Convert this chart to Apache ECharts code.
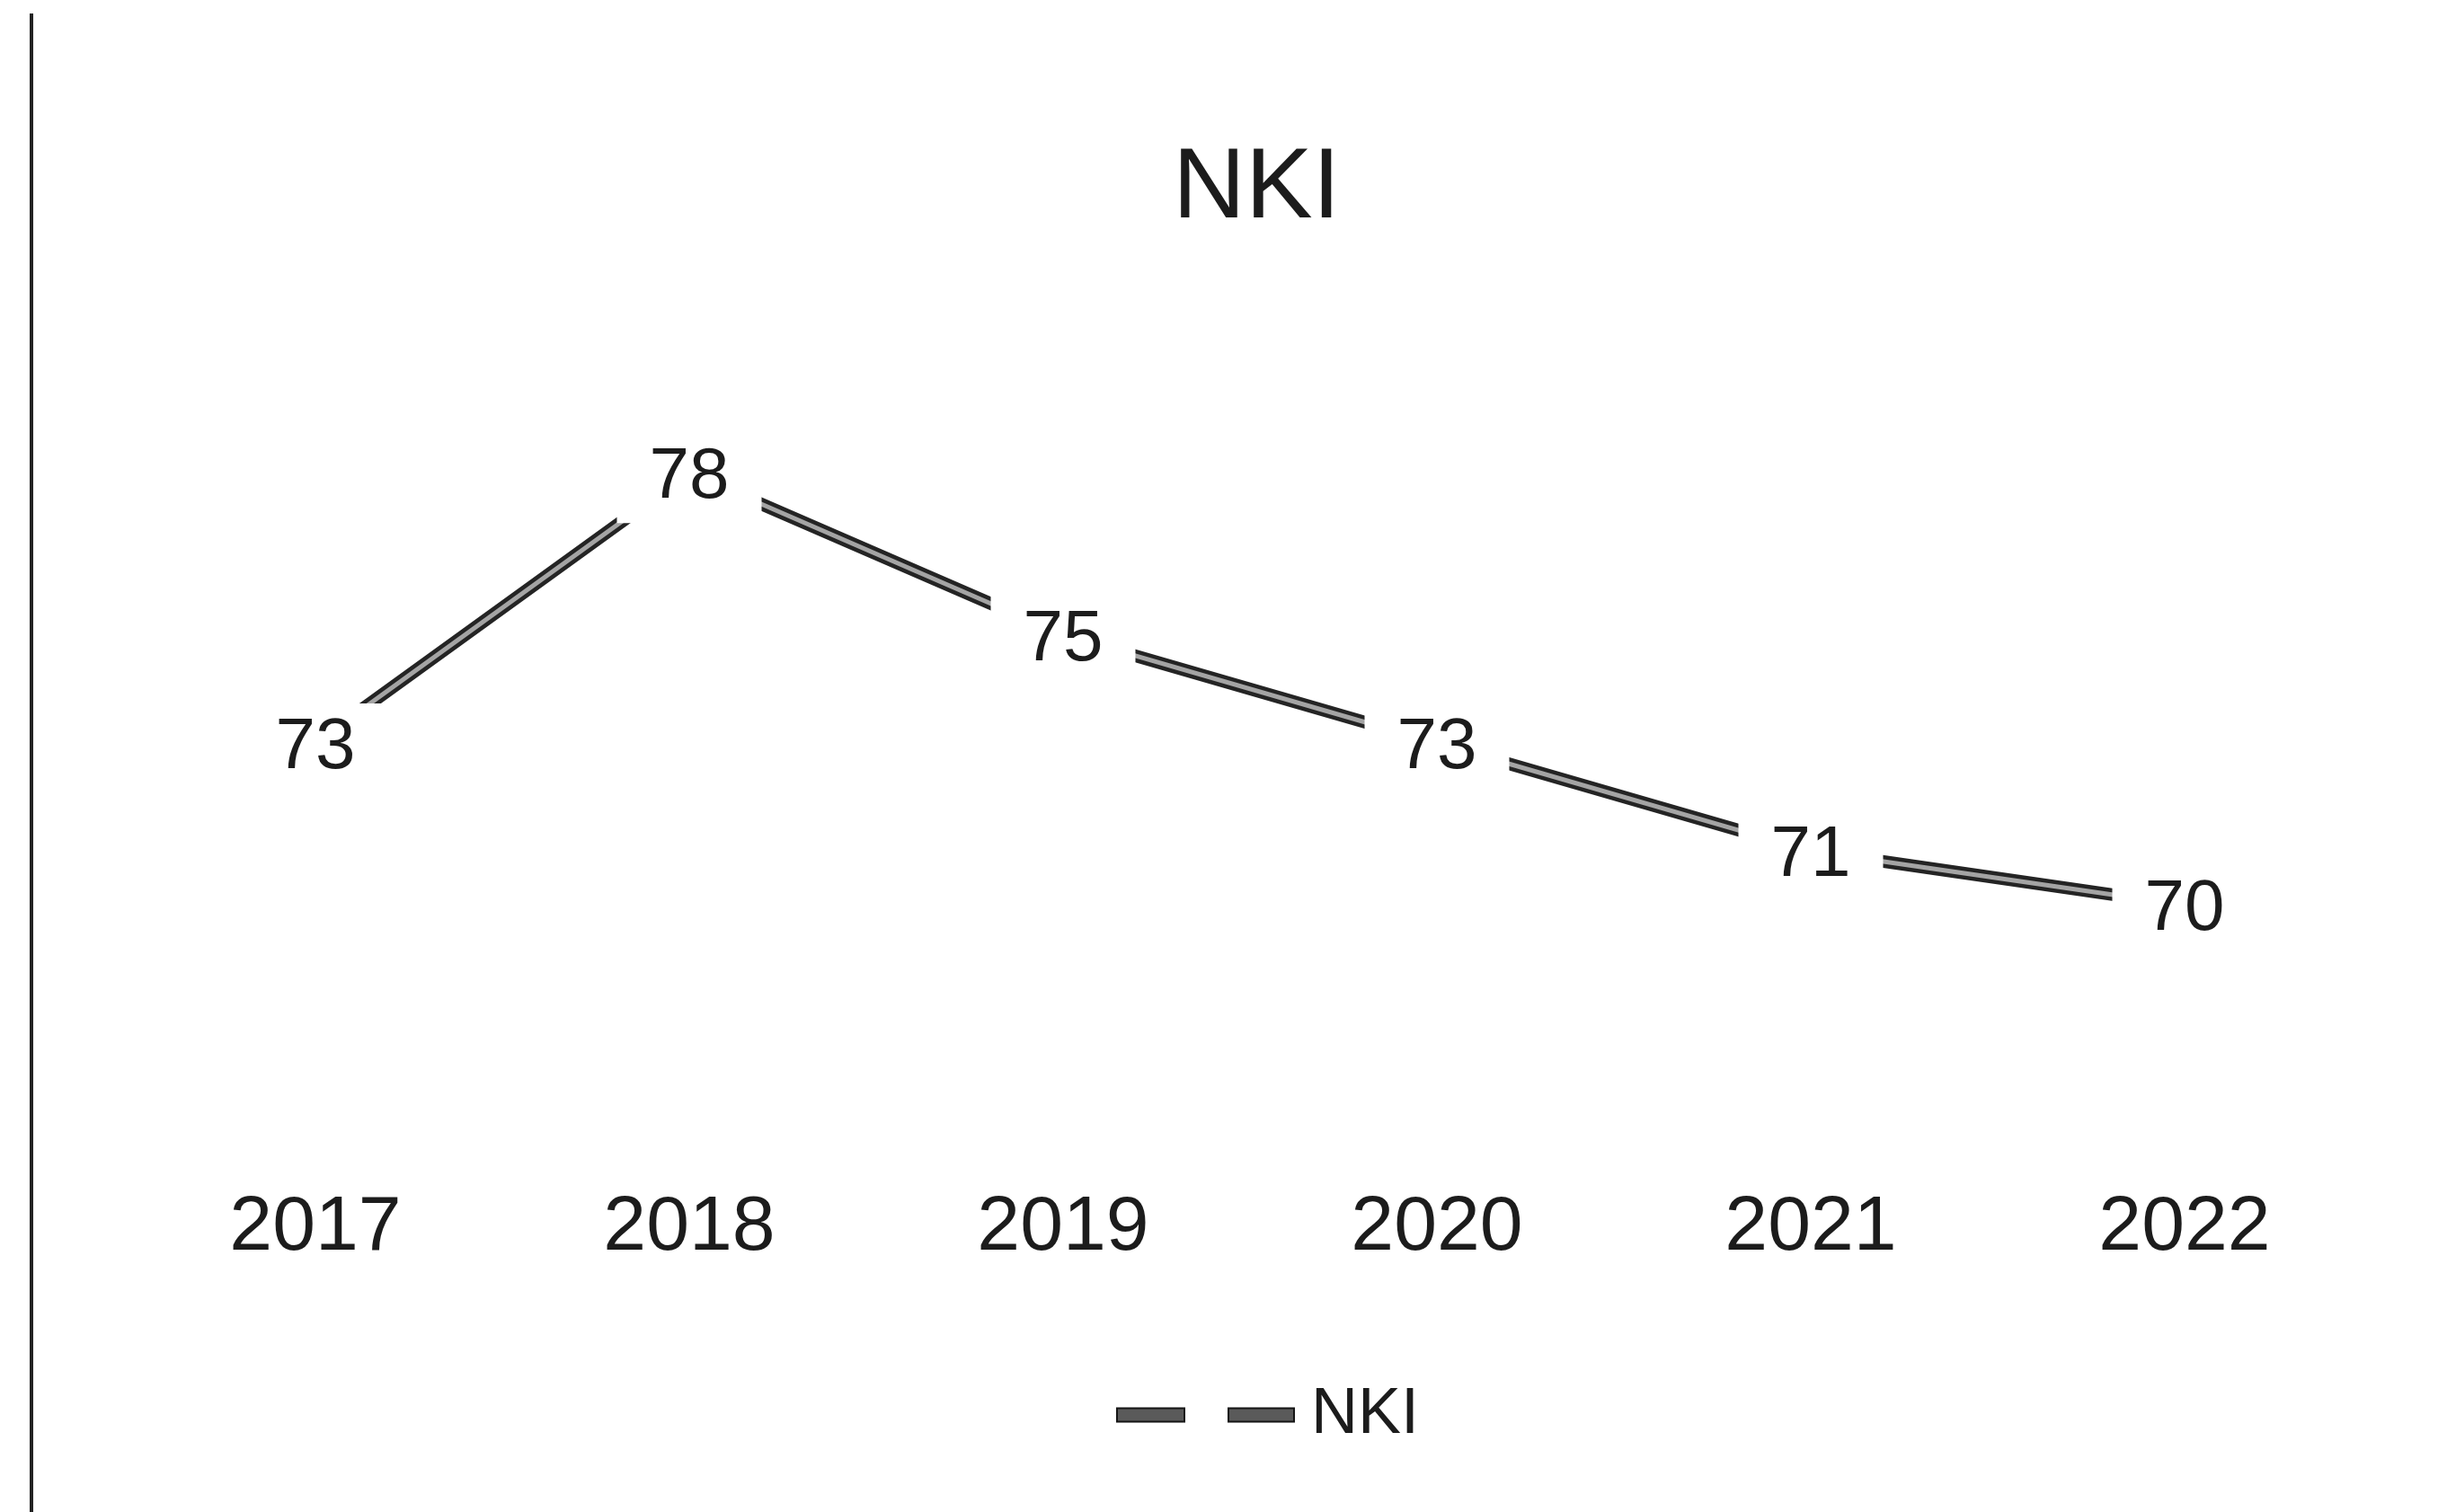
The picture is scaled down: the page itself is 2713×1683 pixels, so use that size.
<!DOCTYPE html>
<html>
<head>
<meta charset="utf-8">
<title>NKI</title>
<script src="https://cdn.jsdelivr.net/npm/echarts@6/dist/echarts.min.js"></script>
<style>
  html, body { margin: 0; padding: 0; background: #ffffff; }
  #chart { width: 2713px; height: 1683px; }
</style>
</head>
<body>
<div id="chart"></div>
<script>
// Yearly NKI values
const years = ['2017', '2018', '2019', '2020', '2021', '2022'];
const nkiValues = [73, 78, 75, 73, 71, 70];
const seriesName = 'NKI';

const FONT = "'Liberation Sans', 'Noto Sans', sans-serif";
const INK = '#1c1c1c';

const chart = echarts.init(document.getElementById('chart'), null, { renderer: 'canvas' });

chart.setOption({
  backgroundColor: '#ffffff',
  animation: false,
  title: {
    text: 'NKI',
    left: 1300,
    top: 150,
    textStyle: { fontFamily: FONT, fontSize: 112, fontWeight: 'normal', color: INK, lineHeight: 112 }
  },
  legend: {
    left: 1237,
    top: 1532,
    itemWidth: 197,
    itemHeight: 15,
    symbolKeepAspect: false,
    data: [{
      name: seriesName,
      icon: 'path://M0,0H75V15H0Z M124,0H197V15H124Z',
      itemStyle: { color: '#5a5a5a', borderColor: '#151515', borderWidth: 2 }
    }],
    textStyle: { fontFamily: FONT, fontSize: 72, color: INK, lineHeight: 76, padding: [0, 0, 0, 14] }
  },
  grid: { left: 143, right: 74, top: 406, bottom: 435 },
  xAxis: {
    type: 'category',
    data: years,
    boundaryGap: true,
    axisLine: { show: false },
    axisTick: { show: false },
    splitLine: { show: false },
    axisLabel: { fontFamily: FONT, fontSize: 86, color: INK, lineHeight: 86, margin: 76 }
  },
  yAxis: {
    type: 'value',
    min: 66,
    max: 80,
    interval: 2,
    show: false,
    splitLine: { show: false }
  },
  graphic: [{
    type: 'line',
    shape: { x1: 35, y1: 15, x2: 35, y2: 1683 },
    style: { stroke: '#222222', lineWidth: 4 }
  }],
  series: [
    {
      // dark outer stroke of the doubled line
      name: seriesName,
      type: 'line',
      data: nkiValues,
      symbol: 'none',
      lineStyle: { color: '#242424', width: 14 },
      silent: true,
      z: 2
    },
    {
      // light core of the doubled line, carries the value labels
      name: seriesName,
      type: 'line',
      data: nkiValues,
      symbol: 'circle',
      symbolSize: 1,
      showSymbol: true,
      itemStyle: { color: 'rgba(0,0,0,0)' },
      lineStyle: { color: '#a4a4a4', width: 5 },
      label: {
        show: true,
        position: 'inside',
        offset: [0, 6],
        fontFamily: FONT,
        fontSize: 80,
        color: INK,
        backgroundColor: '#ffffff',
        padding: [10, 36],
        lineHeight: 80
      },
      z: 3
    }
  ]
});
</script>
</body>
</html>
